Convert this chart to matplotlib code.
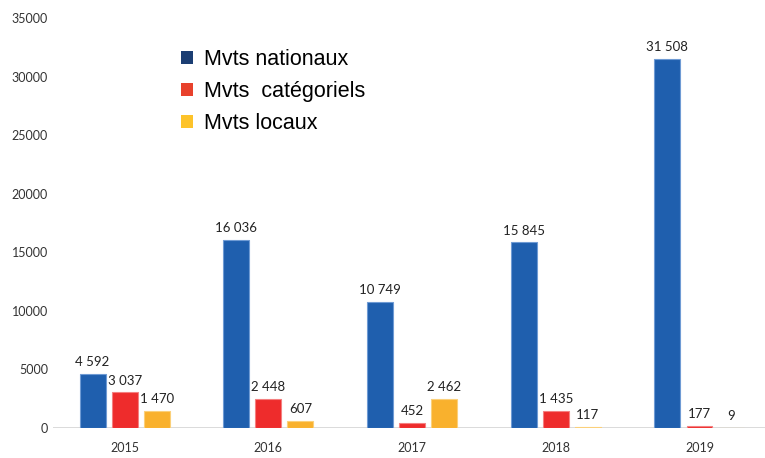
import numpy as np
import matplotlib
matplotlib.use("Agg")
import matplotlib.pyplot as plt
from matplotlib.patches import Patch

annees = ["2015", "2016", "2017", "2018", "2019"]
nationaux = [4592, 16036, 10749, 15845, 31508]
categoriels = [3037, 2448, 452, 1435, 177]
locaux = [1470, 607, 2462, 117, 9]

series = [
    (nationaux, "#1f5fae", "#6f9bd4"),
    (categoriels, "#ee2c2c", "#f48080"),
    (locaux, "#f9b12d", "#fbd07a"),
]

plt.rcParams["font.family"] = ["Lato", "DejaVu Sans"]

fig = plt.figure(figsize=(7.65, 4.58), dpi=100)
ax = fig.add_axes([0.069, 0.0655, 0.931, 0.8952])

x = np.arange(len(annees))
largeur = 0.18
ecart = 0.223

for i, (vals, couleur, bord) in enumerate(series):
    pos = x + (i - 1) * ecart
    ax.bar(pos, vals, width=largeur, color=couleur, edgecolor=bord, linewidth=0.8, zorder=3)
    for p, v in zip(pos, vals):
        txt = f"{v:,}".replace(",", " ")
        ax.text(p, v + 500, txt, ha="center", va="bottom", fontsize=9.5, color="#222222")

ax.axhline(0, color="#d4d4d4", linewidth=1.2, zorder=2)
ax.set_xlim(-0.50, 4.456)
ax.set_ylim(0, 35000)
ax.set_yticks(range(0, 35001, 5000))
ax.set_xticks(x)
ax.set_xticklabels(annees)
ax.tick_params(length=0, labelsize=9, colors="#333333")
ax.tick_params(axis="x", pad=10)
for s in ax.spines.values():
    s.set_visible(False)

poignees = [
    Patch(facecolor="#1b3e73", label="Mvts nationaux"),
    Patch(facecolor="#e8412c", label="Mvts  catégoriels"),
    Patch(facecolor="#fdc32a", label="Mvts locaux"),
]
fig.legend(handles=poignees, loc="upper left", bbox_to_anchor=(0.237, 0.892),
           frameon=False, prop={"family": "Liberation Sans", "size": 15.5},
           handlelength=0.55, handleheight=0.55, handletextpad=0.5, labelspacing=0.5,
           borderpad=0, borderaxespad=0)

fig.savefig("out.png", dpi=100)
